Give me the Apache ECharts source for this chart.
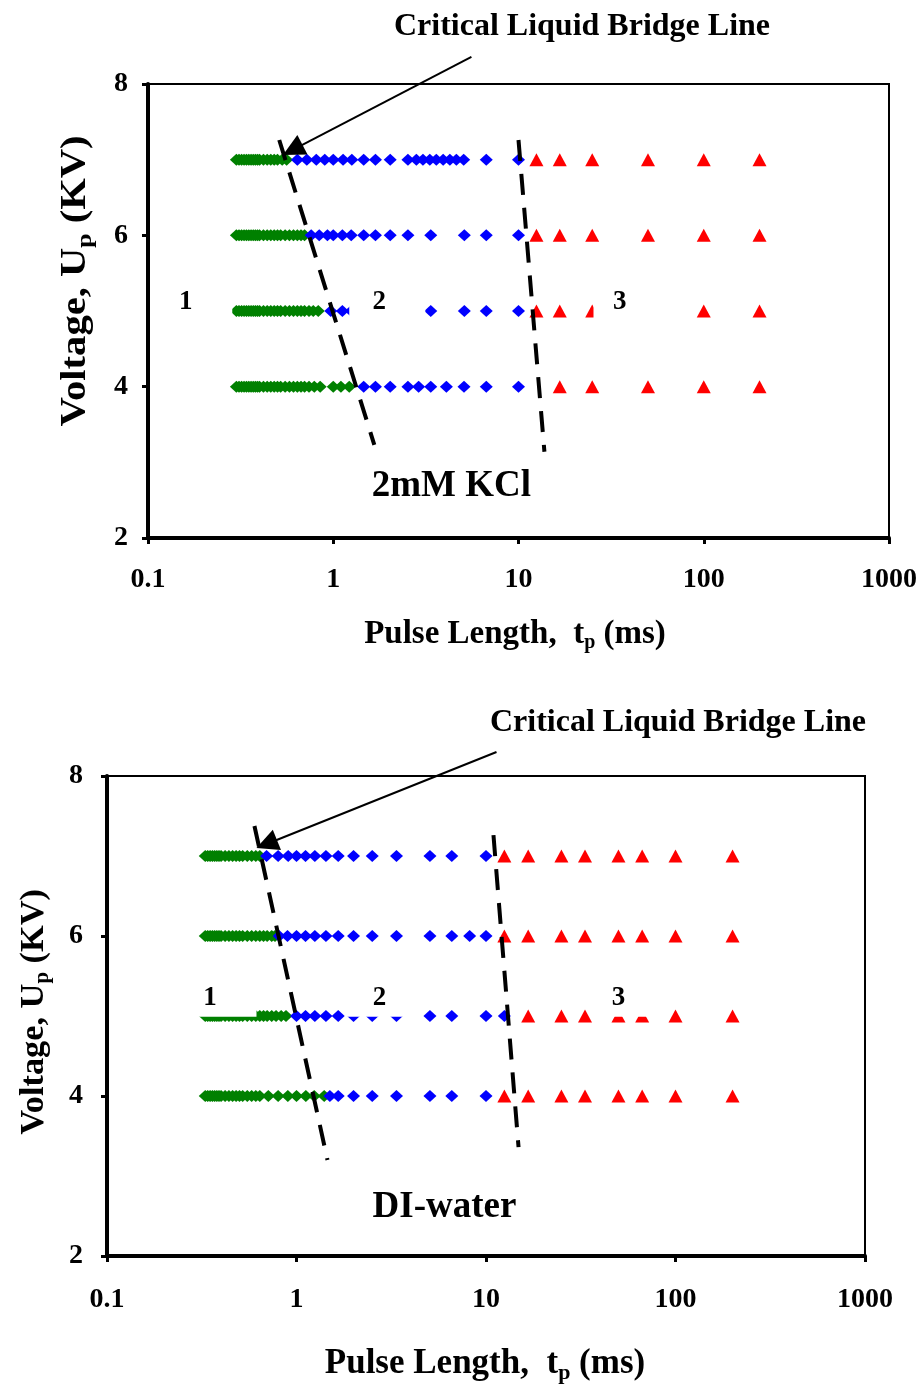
<!DOCTYPE html>
<html>
<head>
<meta charset="utf-8">
<script src="https://cdn.jsdelivr.net/npm/echarts@6/dist/echarts.min.js"></script>
<style>
  html, body { margin: 0; padding: 0; background: #fff; }
  #chart { width: 920px; height: 1385px; }
</style>
</head>
<body>
<div id="chart"></div>
<script>
// pulse lengths (ms) per voltage row (kV); regime 1 = green, 2 = blue, 3 = red
const kclRegime1 = [
  [7, [0.30, 0.31, 0.32, 0.33, 0.34, 0.35, 0.36, 0.37, 0.38, 0.39, 0.40, 0.42, 0.44, 0.46, 0.48, 0.50, 0.53, 0.56]],
  [6, [0.30, 0.31, 0.32, 0.33, 0.34, 0.35, 0.36, 0.37, 0.38, 0.39, 0.40, 0.42, 0.44, 0.46, 0.48, 0.50, 0.52, 0.55, 0.58, 0.61, 0.64, 0.67, 0.70]],
  [5, [0.30, 0.31, 0.32, 0.33, 0.34, 0.35, 0.36, 0.37, 0.38, 0.39, 0.40, 0.42, 0.44, 0.46, 0.48, 0.50, 0.52, 0.55, 0.58, 0.61, 0.64, 0.67, 0.70, 0.74, 0.78, 0.83]],
  [4, [0.30, 0.31, 0.32, 0.33, 0.34, 0.35, 0.36, 0.37, 0.38, 0.39, 0.40, 0.42, 0.44, 0.46, 0.48, 0.50, 0.52, 0.55, 0.58, 0.61, 0.64, 0.67, 0.70, 0.74, 0.79, 0.85, 1.0, 1.1, 1.22]]
];
const kclRegime2 = [
  [7, [0.64, 0.72, 0.81, 0.90, 1.0, 1.13, 1.26, 1.46, 1.69, 2.03, 2.53, 2.81, 3.05, 3.32, 3.6, 3.92, 4.26, 4.62, 5.06, 6.7, 10]],
  [6, [0.76, 0.84, 0.93, 1.0, 1.12, 1.25, 1.46, 1.69, 2.03, 2.53, 3.36, 5.1, 6.7, 10]],
  [5, [0.97, 1.12, 1.25, 1.46, 1.69, 2.03, 2.53, 3.36, 5.1, 6.7, 10]],
  [4, [1.46, 1.69, 2.03, 2.53, 2.89, 3.36, 4.08, 5.08, 6.7, 10]]
];
const kclRegime3 = [
  [7, [12.5, 16.7, 25, 50, 100, 200]],
  [6, [12.5, 16.7, 25, 50, 100, 200]],
  [5, [12.5, 16.7, 25, 50, 100, 200]],
  [4, [16.7, 25, 50, 100, 200]]
];

const diRegime1 = [
  [7, [0.33, 0.34, 0.35, 0.36, 0.37, 0.38, 0.39, 0.40, 0.42, 0.44, 0.46, 0.48, 0.50, 0.52, 0.55, 0.58, 0.61, 0.64]],
  [6, [0.33, 0.34, 0.35, 0.36, 0.37, 0.38, 0.39, 0.40, 0.42, 0.44, 0.46, 0.48, 0.50, 0.52, 0.55, 0.58, 0.61, 0.64, 0.67, 0.70, 0.74, 0.77]],
  [5, [0.33, 0.34, 0.35, 0.36, 0.37, 0.38, 0.39, 0.40, 0.42, 0.44, 0.46, 0.48, 0.50, 0.52, 0.55, 0.58, 0.61, 0.64, 0.67, 0.70, 0.74, 0.78, 0.83, 0.88]],
  [4, [0.33, 0.34, 0.35, 0.36, 0.37, 0.38, 0.39, 0.40, 0.42, 0.44, 0.46, 0.48, 0.50, 0.52, 0.55, 0.58, 0.61, 0.64, 0.71, 0.80, 0.90, 1.0, 1.12, 1.24, 1.40]]
];
const diRegime2 = [
  [7, [0.695, 0.80, 0.904, 1.0, 1.116, 1.25, 1.43, 1.66, 2.0, 2.51, 3.37, 5.06, 6.6, 10]],
  [6, [0.81, 0.896, 1.0, 1.116, 1.25, 1.43, 1.66, 2.0, 2.51, 3.37, 5.06, 6.6, 8.2, 10]],
  [5, [1.0, 1.116, 1.25, 1.43, 1.66, 2.0, 2.51, 3.37, 5.06, 6.6, 10, 12.5]],
  [4, [1.5, 1.66, 2.0, 2.51, 3.37, 5.06, 6.6, 10]]
];
const diRegime3 = [
  [7, [12.5, 16.7, 25, 33.3, 50, 66.7, 100, 200]],
  [6, [12.5, 16.7, 25, 33.3, 50, 66.7, 100, 200]],
  [5, [16.7, 25, 33.3, 50, 66.7, 100, 200]],
  [4, [12.5, 16.7, 25, 33.3, 50, 66.7, 100, 200]]
];

// dashed regime borders and the "critical" arrow, [pulse ms, kV]
const kclBorders = [
  [[0.511, 7.26], [1.666, 3.23]],
  [[10.0, 7.26], [13.8, 3.14]]
];
const diBorders = [
  [[0.60, 7.375], [1.457, 3.2]],
  [[10.95, 7.26], [14.85, 3.36]]
];
const kclArrow = [[5.57, 8.357], [0.604, 7.13]];
const diArrow = [[11.36, 8.3], [0.696, 7.15]];

// region numbers and white boxes behind them
const kclRegionLabels = [['1', 0.16, 5.12], ['2', 1.77, 5.12], ['3', 35.2, 5.12]];
const diRegionLabels = [['1', 0.35, 5.22], ['2', 2.74, 5.22], ['3', 50, 5.22]];
const kclMasks = [[0.117, 5.28, 0.285, 4.9], [1.22, 5.28, 3.14, 4.9], [25.4, 5.28, 86, 4.9]];
const diMasks = [[0.30, 5.39, 0.615, 4.99], [1.81, 5.39, 3.7, 4.99], [43, 5.39, 77, 4.99]];

const xTicks = [0.1, 1, 10, 100, 1000];

const FONT = "'Liberation Serif', 'Times New Roman', serif";

const toPoints = (rows) => {
  const pts = [];
  rows.forEach(([volt, xs]) => xs.forEach((x) => pts.push([x, volt])));
  return pts;
};

const markers = (idx, rows, symbol, size, color) => ({
  type: "scatter",
  xAxisIndex: idx,
  yAxisIndex: idx,
  symbol: symbol,
  symbolSize: size,
  itemStyle: { color: color, opacity: 1 },
  silent: true,
  z: 2,
  data: toPoints(rows),
});

const makeX = (idx, margin) => ({
  type: "log",
  logBase: 10,
  gridIndex: idx,
  min: 0.1,
  max: 1000,
  axisLine: { show: true, lineStyle: { color: "#000", width: 4 } },
  axisTick: { show: true, inside: false, length: 6, lineStyle: { color: "#000", width: 3 } },
  minorTick: { show: false },
  splitLine: { show: false },
  axisLabel: {
    fontFamily: FONT,
    fontWeight: "bold",
    fontSize: 28,
    color: "#000",
    margin: margin,
    formatter: (v) => String(xTicks.find((t) => Math.abs(t - v) / t < 1e-6) || v),
  },
});

const makeY = (idx, margin) => ({
  type: "value",
  gridIndex: idx,
  min: 2,
  max: 8,
  interval: 2,
  axisLine: { show: true, lineStyle: { color: "#000", width: 4 } },
  axisTick: { show: true, inside: false, length: 6, lineStyle: { color: "#000", width: 3 } },
  splitLine: { show: false },
  axisLabel: { fontFamily: FONT, fontWeight: "bold", fontSize: 28, color: "#000", margin: margin },
});

const borderLines = (idx, segs) => ({
  type: "lines",
  coordinateSystem: "cartesian2d",
  xAxisIndex: idx,
  yAxisIndex: idx,
  clip: false,
  silent: true,
  z: 4,
  lineStyle: { color: "#000", width: 4, type: [21, 13], opacity: 1, curveness: 0 },
  data: segs.map((s) => ({ coords: s })),
});

const arrowLine = (idx, seg) => ({
  type: "lines",
  coordinateSystem: "cartesian2d",
  xAxisIndex: idx,
  yAxisIndex: idx,
  clip: false,
  silent: true,
  z: 12,
  symbol: ["none", "triangle"],
  symbolSize: 22,
  lineStyle: { color: "#000", width: 2, opacity: 1, curveness: 0 },
  data: [{ coords: seg }],
});

const masks = (idx, boxes) => ({
  type: "custom",
  xAxisIndex: idx,
  yAxisIndex: idx,
  silent: true,
  z: 8,
  clip: false,
  data: boxes,
  renderItem: (params, api) => {
    const a = api.coord([api.value(0), api.value(1)]);
    const b = api.coord([api.value(2), api.value(3)]);
    return {
      type: "rect",
      shape: {
        x: Math.min(a[0], b[0]),
        y: Math.min(a[1], b[1]),
        width: Math.abs(b[0] - a[0]),
        height: Math.abs(b[1] - a[1]),
      },
      style: { fill: "#fff" },
    };
  },
});

// scatter with invisible points, only used for its labels
const texts = (idx, labels, caption) => ({
  type: "scatter",
  xAxisIndex: idx,
  yAxisIndex: idx,
  symbol: "circle",
  symbolSize: 0,
  itemStyle: { color: "#000", opacity: 1 },
  silent: true,
  z: 10,
  label: {
    show: true,
    position: "inside",
    formatter: "{b}",
    fontFamily: FONT,
    fontWeight: "bold",
    fontSize: 27,
    color: "#000",
    opacity: 1,
    textBorderWidth: 0,
  },
  data: labels
    .map(([n, x, y]) => ({ name: n, value: [x, y] }))
    .concat([{ name: caption[0], value: [caption[1], caption[2]], label: { fontSize: 37 } }]),
});

const subRich = (size, drop) => ({
  sub: { fontFamily: FONT, fontWeight: "bold", fontSize: size, fill: "#000", padding: [drop, 0, 0, 0] },
});

const caption = (text, x, y, size, extra) =>
  Object.assign(
    {
      type: "text",
      x: x,
      y: y,
      z: 20,
      style: {
        text: text,
        fontFamily: FONT,
        fontWeight: "bold",
        fontSize: size,
        fill: "#000",
        align: "center",
        verticalAlign: "middle",
        rich: subRich(Math.round(size * 0.62), Math.round(size * 0.55)),
      },
    },
    extra || {}
  );

const chart = echarts.init(document.getElementById("chart"));

chart.setOption({
  animation: false,
  backgroundColor: "#fff",
  grid: [
    { left: 148, right: 31, top: 84, height: 454, show: true, borderColor: "#000", borderWidth: 2, backgroundColor: "transparent", outerBoundsMode: "none", containLabel: false },
    { left: 107, right: 55, top: 776, height: 480, show: true, borderColor: "#000", borderWidth: 2, backgroundColor: "transparent", outerBoundsMode: "none", containLabel: false },
  ],
  xAxis: [makeX(0, 28), makeX(1, 30)],
  yAxis: [makeY(0, 20), makeY(1, 24)],
  graphic: [
    caption("Critical Liquid Bridge Line", 582, 27, 32),
    caption("Critical Liquid Bridge Line", 678, 723, 32),
    caption("Pulse Length,  t{sub|p} (ms)", 515, 634, 33),
    caption("Pulse Length,  t{sub|p} (ms)", 485, 1364, 35),
    caption("Voltage, U{sub|p} (KV)", 76, 281, 35, { rotation: Math.PI / 2, scaleX: 1.16 }),
    caption("Voltage, U{sub|p} (KV)", 34, 1012, 33, { rotation: Math.PI / 2, scaleX: 1.04 }),
  ],
  series: [
    markers(0, kclRegime1, "diamond", [13, 12], "#008000"),
    markers(0, kclRegime2, "diamond", [13, 12], "#0000ff"),
    markers(0, kclRegime3, "triangle", [14, 13], "#ff0000"),
    borderLines(0, kclBorders),
    masks(0, kclMasks),
    texts(0, kclRegionLabels, ["2mM KCl", 4.34, 2.68]),
    arrowLine(0, kclArrow),

    markers(1, diRegime1, "diamond", [13, 12], "#008000"),
    markers(1, diRegime2, "diamond", [13, 12], "#0000ff"),
    markers(1, diRegime3, "triangle", [14, 13], "#ff0000"),
    borderLines(1, diBorders),
    masks(1, diMasks),
    texts(1, diRegionLabels, ["DI-water", 6.04, 2.61]),
    arrowLine(1, diArrow),
  ],
});
</script>
</body>
</html>
